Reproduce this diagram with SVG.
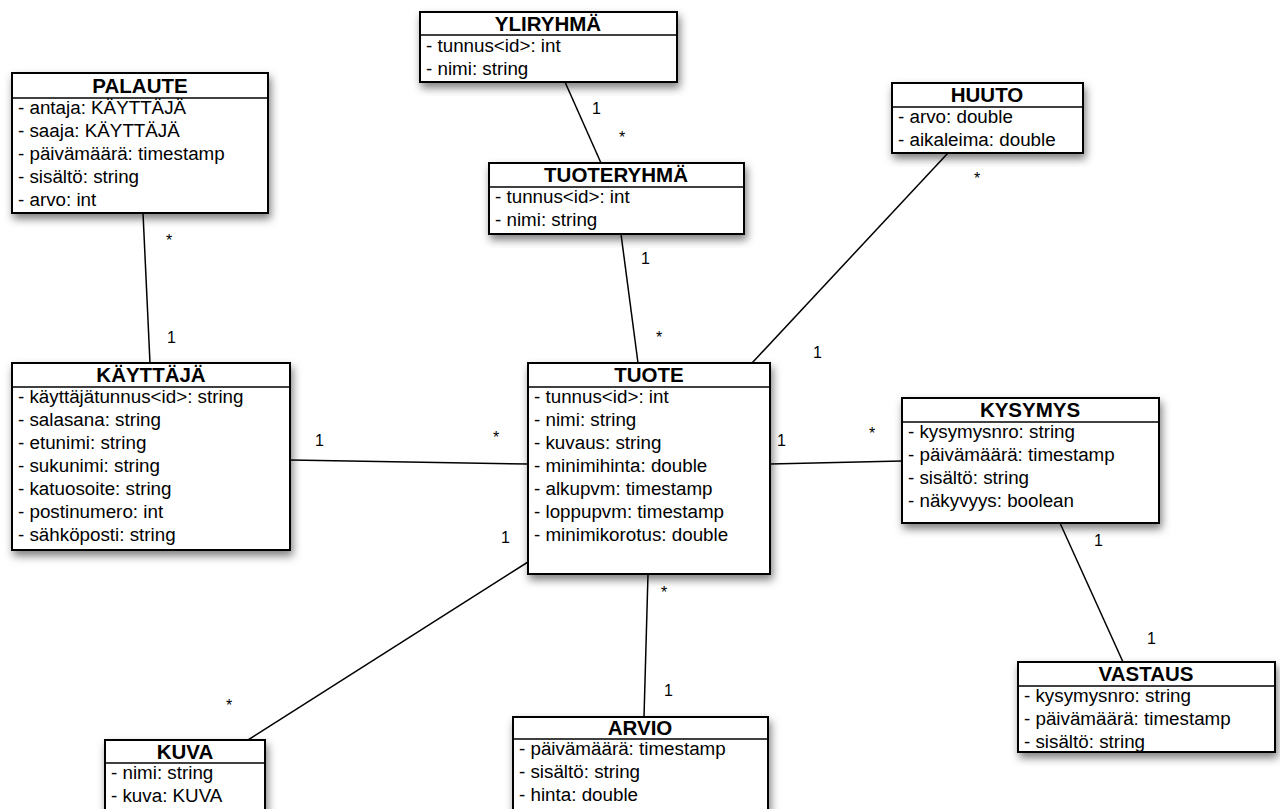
<svg xmlns="http://www.w3.org/2000/svg" width="1280" height="809" viewBox="0 0 1280 809">
<defs>
<filter id="sh" x="-10%" y="-10%" width="125%" height="130%">
<feDropShadow dx="2" dy="5" stdDeviation="4" flood-color="#000" flood-opacity="0.5"/>
</filter>
</defs>
<style>
.box{fill:#fff;stroke:#000;stroke-width:2;filter:url(#sh)}
.sep{stroke:#000;stroke-width:1.5}
.h{font-family:"Liberation Sans",Arial,sans-serif;font-size:20.5px;font-weight:bold;text-anchor:middle;fill:#000}
.a{font-family:"Liberation Sans",Arial,sans-serif;font-size:18.8px;fill:#000}
.c line{stroke:#000;stroke-width:1.5}
.m{font-family:"Liberation Sans",Arial,sans-serif;font-size:16px;fill:#000}
</style>
<rect width="1280" height="809" fill="#fff"/>
<g class="c" id="connectors">
<line x1="143" y1="213" x2="150" y2="363"/>
<line x1="565" y1="82" x2="601" y2="163"/>
<line x1="621" y1="234" x2="638" y2="363"/>
<line x1="948" y1="153" x2="752" y2="363"/>
<line x1="290" y1="460" x2="528" y2="464"/>
<line x1="770" y1="464" x2="902" y2="461"/>
<line x1="1060" y1="523" x2="1123" y2="662"/>
<line x1="528" y1="562" x2="248" y2="740"/>
<line x1="648" y1="574" x2="644" y2="717"/>
<text class="m" x="166" y="246">*</text>
<text class="m" x="167" y="343">1</text>
<text class="m" x="592" y="114">1</text>
<text class="m" x="619" y="143">*</text>
<text class="m" x="641" y="264">1</text>
<text class="m" x="656" y="343">*</text>
<text class="m" x="974" y="184">*</text>
<text class="m" x="813" y="358">1</text>
<text class="m" x="315" y="446">1</text>
<text class="m" x="493" y="443">*</text>
<text class="m" x="777" y="446">1</text>
<text class="m" x="869" y="439">*</text>
<text class="m" x="1094" y="546">1</text>
<text class="m" x="1147" y="644">1</text>
<text class="m" x="501" y="543">1</text>
<text class="m" x="226" y="711">*</text>
<text class="m" x="661" y="598">*</text>
<text class="m" x="664" y="696">1</text>
</g>
<g id="palaute">
<rect class="box" x="12" y="73" width="256" height="140"/>
<line class="sep" x1="12" y1="98" x2="268" y2="98"/>
<text class="h" x="140" y="93">PALAUTE</text>
<text class="a" x="18" y="114">- antaja: KÄYTTÄJÄ</text>
<text class="a" x="18" y="137">- saaja: KÄYTTÄJÄ</text>
<text class="a" x="18" y="160">- päivämäärä: timestamp</text>
<text class="a" x="18" y="183">- sisältö: string</text>
<text class="a" x="18" y="206">- arvo: int</text>
</g>
<g id="yliryhma">
<rect class="box" x="420" y="12" width="257" height="70"/>
<line class="sep" x1="420" y1="35" x2="677" y2="35"/>
<text class="h" x="548" y="31">YLIRYHMÄ</text>
<text class="a" x="426" y="52">- tunnus&lt;id&gt;: int</text>
<text class="a" x="426" y="75">- nimi: string</text>
</g>
<g id="tuoteryhma">
<rect class="box" x="489" y="163" width="255" height="71"/>
<line class="sep" x1="489" y1="187" x2="744" y2="187"/>
<text class="h" x="616" y="182">TUOTERYHMÄ</text>
<text class="a" x="495" y="203">- tunnus&lt;id&gt;: int</text>
<text class="a" x="495" y="226">- nimi: string</text>
</g>
<g id="huuto">
<rect class="box" x="892" y="83" width="191" height="70"/>
<line class="sep" x1="892" y1="107" x2="1083" y2="107"/>
<text class="h" x="987" y="102">HUUTO</text>
<text class="a" x="898" y="123">- arvo: double</text>
<text class="a" x="898" y="146">- aikaleima: double</text>
</g>
<g id="kayttaja">
<rect class="box" x="12" y="363" width="278" height="187"/>
<line class="sep" x1="12" y1="387" x2="290" y2="387"/>
<text class="h" x="151" y="382">KÄYTTÄJÄ</text>
<text class="a" x="18" y="403">- käyttäjätunnus&lt;id&gt;: string</text>
<text class="a" x="18" y="426">- salasana: string</text>
<text class="a" x="18" y="449">- etunimi: string</text>
<text class="a" x="18" y="472">- sukunimi: string</text>
<text class="a" x="18" y="495">- katuosoite: string</text>
<text class="a" x="18" y="518">- postinumero: int</text>
<text class="a" x="18" y="541">- sähköposti: string</text>
</g>
<g id="tuote">
<rect class="box" x="528" y="363" width="242" height="211"/>
<line class="sep" x1="528" y1="387" x2="770" y2="387"/>
<text class="h" x="649" y="382">TUOTE</text>
<text class="a" x="534" y="403">- tunnus&lt;id&gt;: int</text>
<text class="a" x="534" y="426">- nimi: string</text>
<text class="a" x="534" y="449">- kuvaus: string</text>
<text class="a" x="534" y="472">- minimihinta: double</text>
<text class="a" x="534" y="495">- alkupvm: timestamp</text>
<text class="a" x="534" y="518">- loppupvm: timestamp</text>
<text class="a" x="534" y="541">- minimikorotus: double</text>
</g>
<g id="kysymys">
<rect class="box" x="902" y="398" width="257" height="125"/>
<line class="sep" x1="902" y1="422" x2="1159" y2="422"/>
<text class="h" x="1030" y="417">KYSYMYS</text>
<text class="a" x="908" y="438">- kysymysnro: string</text>
<text class="a" x="908" y="461">- päivämäärä: timestamp</text>
<text class="a" x="908" y="484">- sisältö: string</text>
<text class="a" x="908" y="507">- näkyvyys: boolean</text>
</g>
<g id="vastaus">
<rect class="box" x="1018" y="662" width="257" height="90"/>
<line class="sep" x1="1018" y1="686" x2="1275" y2="686"/>
<text class="h" x="1146" y="681">VASTAUS</text>
<text class="a" x="1024" y="702">- kysymysnro: string</text>
<text class="a" x="1024" y="725">- päivämäärä: timestamp</text>
<text class="a" x="1024" y="748">- sisältö: string</text>
</g>
<g id="kuva">
<rect class="box" x="105" y="740" width="160" height="90"/>
<line class="sep" x1="105" y1="763" x2="265" y2="763"/>
<text class="h" x="185" y="759">KUVA</text>
<text class="a" x="111" y="779">- nimi: string</text>
<text class="a" x="111" y="802">- kuva: KUVA</text>
</g>
<g id="arvio">
<rect class="box" x="513" y="717" width="255" height="110"/>
<line class="sep" x1="513" y1="739" x2="768" y2="739"/>
<text class="h" x="640" y="735">ARVIO</text>
<text class="a" x="519" y="755">- päivämäärä: timestamp</text>
<text class="a" x="519" y="778">- sisältö: string</text>
<text class="a" x="519" y="801">- hinta: double</text>
</g>
</svg>
